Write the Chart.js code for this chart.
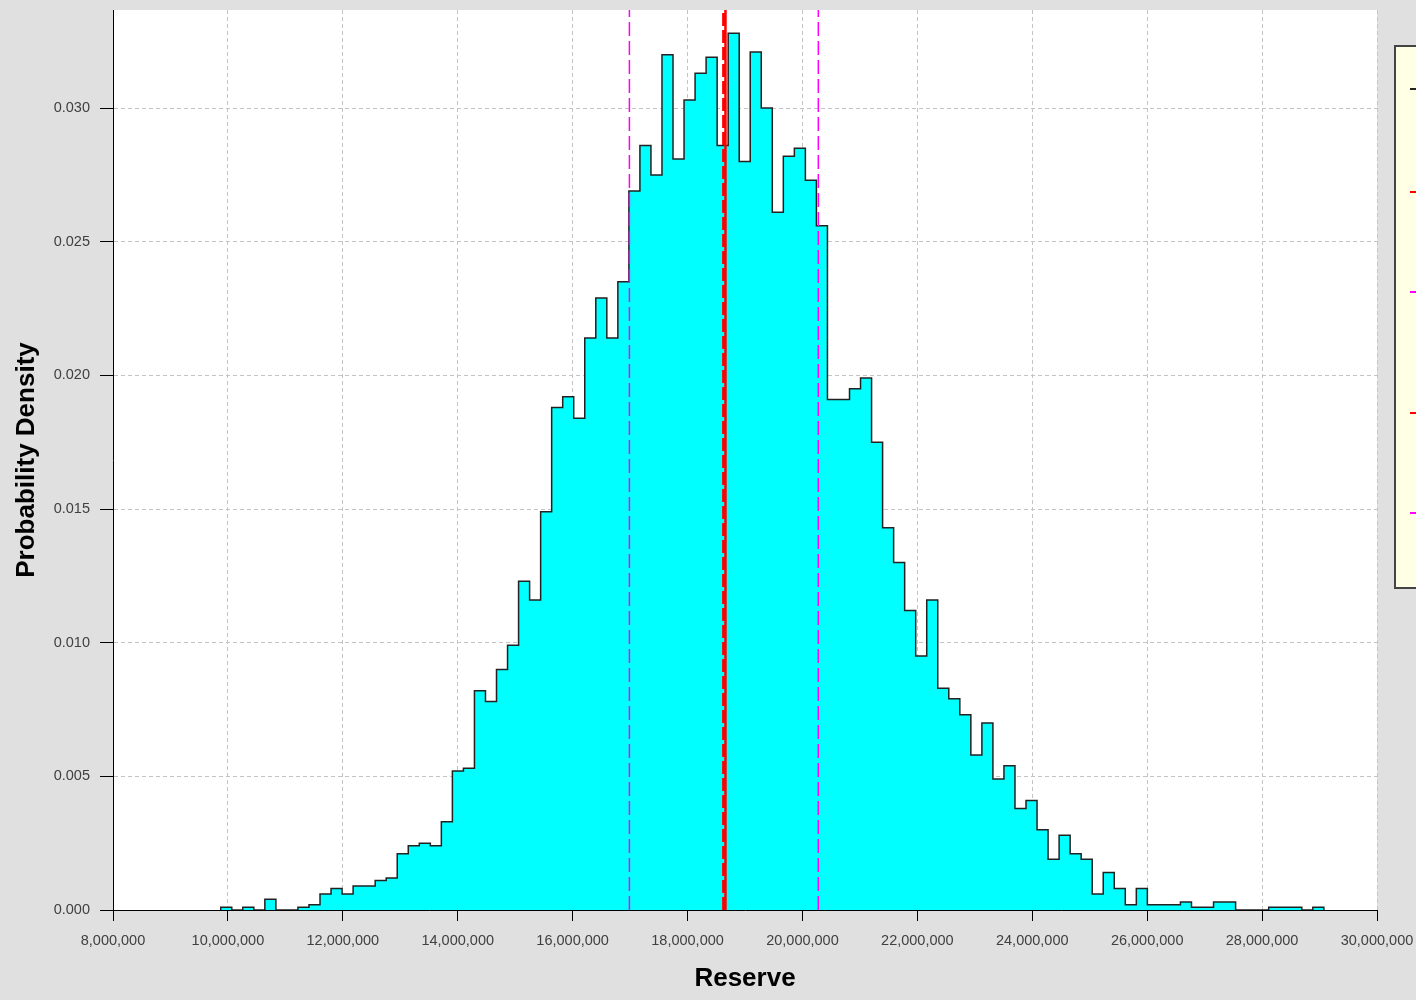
<!DOCTYPE html>
<html>
<head>
<meta charset="utf-8">
<title>Reserve - Probability Density</title>
<script src="https://cdn.jsdelivr.net/npm/chart.js@4.4.1/dist/chart.umd.min.js"></script>
<style>
  body { margin: 0; background: #e0e0e0; }
  canvas { display: block; }
</style>
</head>
<body>
<canvas id="histChart" width="1416" height="1000"></canvas>
<script>
// histogram bins: 100 bins starting at binStart
const binStart = 9875000
const binWidth = 192000
const density = [
    0.0001, 0, 0.0001, 0, 0.0004, 0, 0, 0.0001, 0.0002, 0.0006,
    0.0008, 0.0006, 0.0009, 0.0009, 0.0011, 0.0012, 0.0021, 0.0024, 0.0025, 0.0024,
    0.0033, 0.0052, 0.0053, 0.0082, 0.0078, 0.0090, 0.0099, 0.0123, 0.0116, 0.0149,
    0.0188, 0.0192, 0.0184, 0.0214, 0.0229, 0.0214, 0.0235, 0.0269, 0.0286, 0.0275,
    0.0320, 0.0281, 0.0303, 0.0313, 0.0319, 0.0286, 0.0328, 0.0280, 0.0321, 0.0300,
    0.0261, 0.0282, 0.0285, 0.0273, 0.0256, 0.0191, 0.0191, 0.0195, 0.0199, 0.0175,
    0.0143, 0.0130, 0.0112, 0.0095, 0.0116, 0.0083, 0.0079, 0.0073, 0.0058, 0.0070,
    0.0049, 0.0054, 0.0038, 0.0041, 0.0030, 0.0019, 0.0028, 0.0021, 0.0019, 0.0006,
    0.0014, 0.0008, 0.0002, 0.0008, 0.0002, 0.0002, 0.0002, 0.0003, 0.0001, 0.0001,
    0.0003, 0.0003, 0, 0, 0, 0.0001, 0.0001, 0.0001, 0, 0.0001
]
const xTicks = [8000000, 10000000, 12000000, 14000000, 16000000, 18000000,
    20000000, 22000000, 24000000, 26000000, 28000000, 30000000]
const yTicks = [0, 0.005, 0.010, 0.015, 0.020, 0.025, 0.030]
const yMax = 0.03367

// marker lines
const meanValue = 18660000
const medianValue = 18628000
const lowerValue = 16988000
const upperValue = 20276000

Chart.defaults.font.family = "'Liberation Sans', Arial, sans-serif"

// step outline: start on the baseline, one point per left edge, close on the baseline
const histPoints = [{x: binStart, y: 0}]
density.forEach((d, i) => histPoints.push({x: binStart + i * binWidth, y: d}))
histPoints.push({x: binStart + density.length * binWidth, y: 0})

const vLine = (x, color, width, dash) => ({
    data: [{x: x, y: 0}, {x: x, y: yMax}],
    borderColor: color,
    borderWidth: width,
    borderDash: dash,
    pointRadius: 0,
    fill: false
})

const background = {
    id: 'background',
    beforeDraw(chart) {
        const {ctx, chartArea: a} = chart
        ctx.save()
        ctx.fillStyle = '#e0e0e0'
        ctx.fillRect(0, 0, chart.width, chart.height)
        ctx.fillStyle = '#ffffff'
        ctx.fillRect(a.left, a.top, a.right - a.left, a.bottom - a.top)
        ctx.restore()
    }
}

// legend box sits mostly outside the canvas, only its left edge shows
const legendBox = {
    id: 'legendBox',
    afterDraw(chart) {
        const {ctx} = chart
        ctx.save()
        ctx.fillStyle = '#ffffe6'
        ctx.fillRect(1395, 46, 40, 542)
        ctx.strokeStyle = '#444'
        ctx.lineWidth = 2
        ctx.strokeRect(1395, 46, 40, 542)
        const samples = [[89, '#222'], [192, '#ff0000'], [292, '#ff00ff'], [413, '#ff0000'], [513, '#ff00ff']]
        ctx.lineWidth = 2
        samples.forEach(([y, c]) => {
            ctx.strokeStyle = c
            ctx.beginPath()
            ctx.moveTo(1410, y)
            ctx.lineTo(1420, y)
            ctx.stroke()
        })
        ctx.restore()
    }
}

const chart = new Chart(document.getElementById('histChart'), {
    type: 'line',
    data: {
        datasets: [
            vLine(meanValue, '#ff0000', 2.5, []),
            vLine(medianValue, '#ff0000', 3, [13, 4]),
            vLine(lowerValue, '#ff00ff', 1.5, [14, 5]),
            vLine(upperValue, '#ff00ff', 1.5, [14, 5]),
            {
                data: histPoints,
                stepped: 'before',
                borderColor: '#222222',
                borderWidth: 1.5,
                backgroundColor: '#00ffff',
                fill: 'origin',
                pointRadius: 0
            }
        ]
    },
    options: {
        responsive: false,
        animation: false,
        layout: {padding: {left: 0, right: 39, top: 10, bottom: 0}},
        plugins: {
            legend: {display: false},
            tooltip: {enabled: false}
        },
        scales: {
            x: {
                type: 'linear',
                min: 8000000,
                max: 30000000,
                afterBuildTicks: scale => { scale.ticks = xTicks.map(v => ({value: v})) },
                afterFit: scale => {
                    scale.height = 90
                    scale.paddingLeft = 0
                    scale.paddingRight = 0
                },
                ticks: {
                    callback: v => v.toLocaleString('en-US'),
                    font: {size: 14.5},
                    color: '#404040',
                    padding: 11,
                    maxRotation: 0
                },
                grid: {color: '#c4c4c4', tickColor: '#000', tickLength: 11},
                border: {color: '#000', width: 1, dash: [4, 3], z: 1},
                title: {
                    display: true,
                    text: 'Reserve',
                    color: '#000',
                    font: {size: 26, weight: 'bold'},
                    padding: {bottom: 6}
                }
            },
            y: {
                min: 0,
                max: yMax,
                afterBuildTicks: scale => { scale.ticks = yTicks.map(v => ({value: v})) },
                afterFit: scale => {
                    scale.width = 113
                    scale.paddingTop = 0
                    scale.paddingBottom = 0
                },
                ticks: {
                    callback: v => v.toFixed(3),
                    font: {size: 14.5},
                    color: '#404040',
                    padding: 10
                },
                grid: {color: '#c4c4c4', tickColor: '#000', tickLength: 13},
                border: {color: '#000', width: 1, dash: [4, 3], z: 1},
                title: {
                    display: true,
                    text: 'Probability Density',
                    color: '#000',
                    font: {size: 26, weight: 'bold'},
                    padding: {top: 11}
                }
            }
        }
    },
    plugins: [background, legendBox]
})
</script>
</body>
</html>
